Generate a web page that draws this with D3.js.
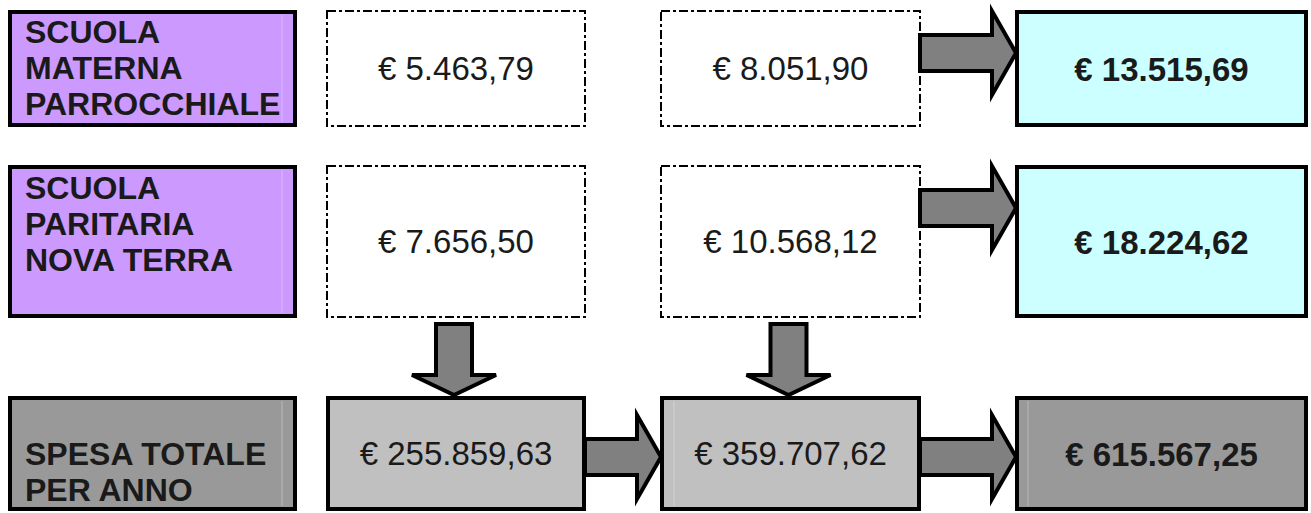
<!DOCTYPE html>
<html>
<head>
<meta charset="utf-8">
<script src="https://cdn.jsdelivr.net/npm/d3@7/dist/d3.min.js"></script>
<style>
  html, body { margin: 0; padding: 0; background: #fff; }
  svg { display: block; }
</style>
</head>
<body>
<div id="chart"></div>
<script>
// dati
const etichette = [
    ["SCUOLA", "MATERNA", "PARROCCHIALE"],
    ["SCUOLA", "PARITARIA", "NOVA TERRA"],
    ["SPESA TOTALE", "PER ANNO"]
];
const quotaA = [5463.79, 7656.50, 255859.63];
const quotaB = [8051.90, 10568.12, 359707.62];
const totali = [13515.69, 18224.62, 615567.25];

// frecce: [riga, colonna da, colonna a]
const frecceDestra = [[0, 2, 3], [1, 2, 3], [2, 1, 2], [2, 2, 3]];
// frecce in basso: [colonna, riga da, riga a]
const frecceGiu = [[1, 1, 2], [2, 1, 2]];

const width = 1311, height = 513;

const it = d3.formatLocale({decimal: ",", thousands: ".", grouping: [3], currency: ["€ ", ""]});
const euro = it.format("$,.2f");

// posizioni delle colonne e righe
const colonne = [0, 1, 2, 3];
const xLeft = d3.scaleOrdinal().domain(colonne).range([8, 326, 660, 1015]);
const xRight = d3.scaleOrdinal().domain(colonne).range([297, 586, 921, 1308]);
const righe = [0, 1, 2];
const yTop = d3.scaleOrdinal().domain(righe).range([10, 165, 396]);
const yBottom = d3.scaleOrdinal().domain(righe).range([127, 318, 511]);
const yFreccia = d3.scaleOrdinal().domain(righe).range([53, 208, 457]);
const primaRiga = d3.scaleOrdinal().domain(righe).range([33, 34, 69]);

const fillEtichetta = ["#cc99ff", "#cc99ff", "#999999"];
const fillTotale = ["#ccffff", "#ccffff", "#999999"];
const fillQuota = ["#ffffff", "#ffffff", "#c0c0c0"];

const svg = d3.select("#chart")
    .append("svg")
    .attr("width", width)
    .attr("height", height);

function box(r, c, fill, dashed) {
    const sw = dashed ? 2 : 4;
    svg.append("rect")
        .attr("x", xLeft(c) + sw / 2)
        .attr("y", yTop(r) + sw / 2)
        .attr("width", xRight(c) - xLeft(c) - sw)
        .attr("height", yBottom(r) - yTop(r) - sw)
        .attr("fill", fill)
        .attr("stroke", "#000")
        .attr("stroke-width", sw)
        .attr("stroke-dasharray", dashed ? "9,3,3,3" : null);
}

function valore(r, c, txt, bold) {
    svg.append("text")
        .attr("x", (xLeft(c) + xRight(c)) / 2)
        .attr("y", (yTop(r) + yBottom(r)) / 2 + (bold ? 12 : 11.5))
        .attr("text-anchor", "middle")
        .style("font-family", "'Liberation Sans', Arial, sans-serif")
        .style("font-size", bold ? "33px" : "33px")
        .style("font-weight", bold ? "bold" : "normal")
        .style("fill", "#1a1a1a")
        .text(txt);
}

function lineaChiara(r, x, col) {
    svg.append("line")
        .attr("x1", x).attr("x2", x)
        .attr("y1", yTop(r) + 5).attr("y2", yBottom(r) - 5)
        .attr("stroke", col)
        .attr("stroke-width", 1);
}

righe.forEach(r => {
    // etichetta
    box(r, 0, fillEtichetta[r], false);
    lineaChiara(r, 282, "rgba(255,255,255,0.35)");
    svg.append("text")
        .attr("x", 25)
        .attr("y", yTop(r) + primaRiga(r))
        .style("font-family", "'Liberation Sans', Arial, sans-serif")
        .style("font-size", "32px")
        .style("font-weight", "bold")
        .style("fill", "#1a1a1a")
        .selectAll("tspan")
        .data(etichette[r])
        .enter()
        .append("tspan")
        .attr("x", 25)
        .attr("dy", (d, i) => i === 0 ? 0 : 36)
        .text(d => d);

    // quote
    const tratteggio = r < 2;
    box(r, 1, fillQuota[r], tratteggio);
    box(r, 2, fillQuota[r], tratteggio);
    if (!tratteggio) lineaChiara(r, 674, "rgba(255,255,255,0.3)");
    valore(r, 1, euro(quotaA[r]), false);
    valore(r, 2, euro(quotaB[r]), false);

    // totale
    box(r, 3, fillTotale[r], false);
    lineaChiara(r, 1028, "rgba(255,255,255,0.3)");
    valore(r, 3, euro(totali[r]), true);
});

// frecce
function frecciaDestra(x0, x1, cy) {
    const s = 18, h = 42, lt = 24;
    const p = d3.path();
    p.moveTo(x0, cy - s);
    p.lineTo(x1 - lt, cy - s);
    p.lineTo(x1 - lt, cy - h);
    p.lineTo(x1, cy);
    p.lineTo(x1 - lt, cy + h);
    p.lineTo(x1 - lt, cy + s);
    p.lineTo(x0, cy + s);
    p.closePath();
    return p.toString();
}

function frecciaGiu(cx, y0, y1) {
    const s = 18, h = 42, lt = 20;
    const p = d3.path();
    p.moveTo(cx - s, y0);
    p.lineTo(cx + s, y0);
    p.lineTo(cx + s, y1 - lt);
    p.lineTo(cx + h, y1 - lt);
    p.lineTo(cx, y1);
    p.lineTo(cx - h, y1 - lt);
    p.lineTo(cx - s, y1 - lt);
    p.closePath();
    return p.toString();
}

svg.selectAll("path.destra")
    .data(frecceDestra)
    .enter()
    .append("path")
    .attr("class", "destra")
    .attr("d", d => frecciaDestra(xRight(d[1]) - 1, xLeft(d[2]) + 1, yFreccia(d[0])))
    .attr("fill", "#808080")
    .attr("stroke", "#000")
    .attr("stroke-width", 4)
    .attr("stroke-linejoin", "miter");

svg.selectAll("path.giu")
    .data(frecceGiu)
    .enter()
    .append("path")
    .attr("class", "giu")
    .attr("d", d => frecciaGiu((xLeft(d[0]) + xRight(d[0])) / 2 - 2, yBottom(d[1]) + 6, yTop(d[2]) - 1))
    .attr("fill", "#808080")
    .attr("stroke", "#000")
    .attr("stroke-width", 4)
    .attr("stroke-linejoin", "miter");
</script>
</body>
</html>
